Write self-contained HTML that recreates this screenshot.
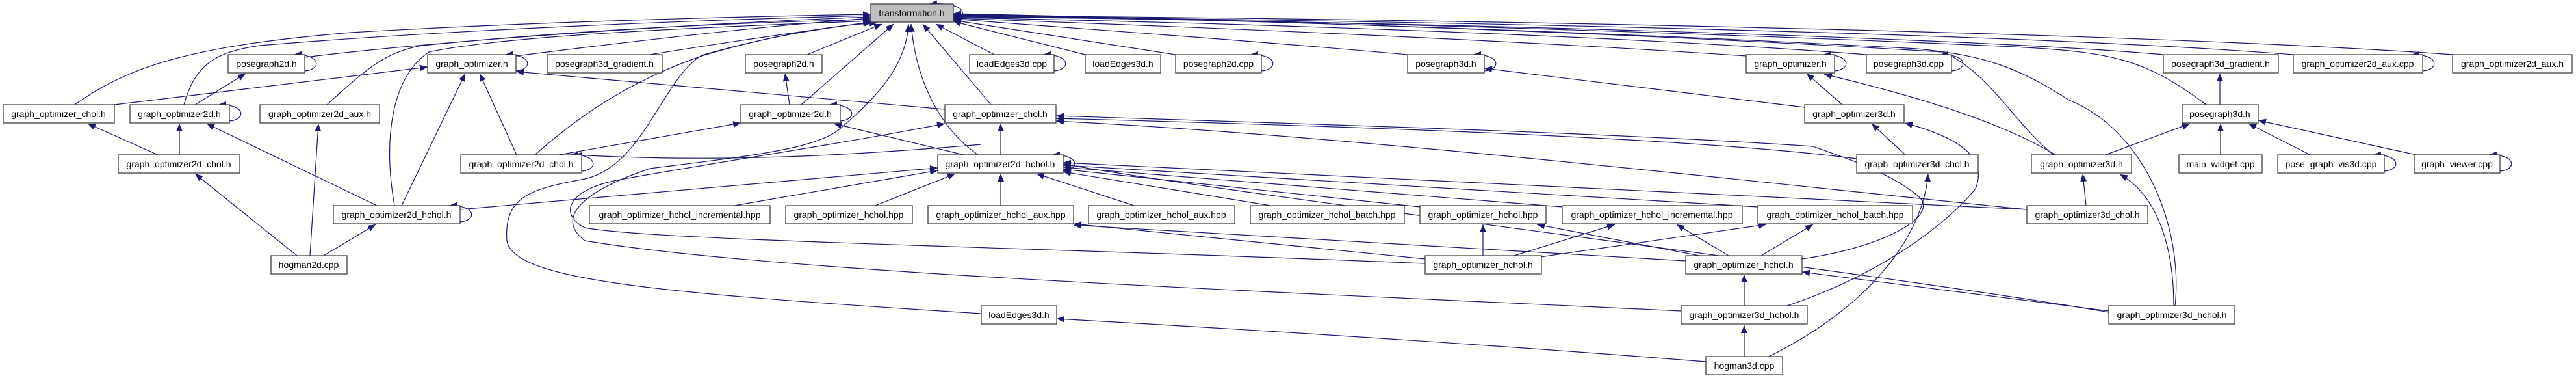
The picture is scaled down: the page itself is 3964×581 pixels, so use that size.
<!DOCTYPE html>
<html><head><meta charset="utf-8"><style>
html,body{margin:0;padding:0;background:#fff;}
svg{display:block;}
.n rect{fill:#fff;stroke:#404040;stroke-width:1.3;}
.n text{font-family:"Liberation Sans",sans-serif;font-size:14px;fill:#000;text-anchor:middle;}
.e path{fill:none;stroke:#191970;stroke-width:1.2;marker-end:url(#a);}
</style></head><body>
<svg width="3964" height="581" viewBox="0 0 3964 581" xmlns="http://www.w3.org/2000/svg">
<defs><marker id="a" markerUnits="userSpaceOnUse" markerWidth="13" markerHeight="10" refX="12" refY="5" orient="auto"><path d="M0,0 L12,5 L0,10 z" fill="#191970"/></marker></defs>
<g class="e">
<!-- edges to transformation.h -->
<path d="M115,161 C200,100 300,70 540,50 C800,35 1100,26 1340,22"/>
<path d="M283,161 C300,100 330,80 400,70 C700,45 1100,30 1340,24"/>
<path d="M469,88 C700,60 1100,35 1340,26"/>
<path d="M794,86 C1000,60 1200,38 1340,28"/>
<path d="M503,161 C560,110 590,80 650,70 C900,45 1150,34 1340,30"/>
<path d="M607,316 C590,220 600,120 660,80 C800,50 1200,38 1340,32"/>
<path d="M1000,84 C1150,60 1280,42 1342,34"/>
<path d="M823,238 C900,170 980,120 1083,85 C1200,50 1300,38 1350,35"/>
<path d="M1242,84 L1357,37"/>
<path d="M1233,161 L1375,37"/>
<path d="M1505,238 C1450,200 1410,130 1402,37"/>
<path d="M1525,161 L1420,37"/>
<path d="M1530,84 L1440,37"/>
<path d="M1670,84 L1467,33"/>
<path d="M1809,84 L1467,31"/>
<path d="M2166,84 C1900,60 1600,40 1467,29"/>
<path d="M2687,86 C2300,60 1800,40 1467,28"/>
<path d="M2872,84 C2500,55 1900,35 1467,27"/>
<path d="M3329,84 C3000,55 2000,30 1467,26"/>
<path d="M3529,84 C3100,50 2100,30 1467,25"/>
<path d="M3774,84 C3300,50 2200,28 1467,24"/>
<path d="M3395,161 C3300,90 3250,80 3100,72 C2500,45 1900,30 1467,23"/>
<path d="M3347,470 C3360,350 3300,200 3184,154 C3100,100 3050,85 2950,75 C2500,50 1900,30 1467,22"/>
<path d="M3160,238 C3100,190 3060,110 2990,80 C2500,50 1900,30 1467,21"/>
<path d="M1510,482 C1000,450 790,430 780,370 C775,300 820,290 900,275 C990,255 1020,120 1080,85 C1200,50 1300,40 1340,34"/>
<path d="M2587,478 C2000,450 1200,420 900,370 C860,340 880,300 1000,259 C1150,240 1250,230 1290,200 C1350,150 1395,100 1398,37"/>
<!-- self loops -->
<path d="M1467,30 C1490,28 1490,2 1430,6"/>
<path d="M469,109 C495,107 495,83 452,84"/>
<path d="M794,109 C820,107 820,83 777,84"/>
<path d="M353,186 C379,184 379,160 336,161"/>
<path d="M895,263 C921,261 921,237 878,238"/>
<path d="M708,341 C734,339 734,315 691,316"/>
<path d="M1293,186 C1319,184 1319,160 1276,161"/>
<path d="M1622,109 C1648,107 1648,83 1605,84"/>
<path d="M1941,109 C1967,107 1967,83 1924,84"/>
<path d="M1636,263 C1662,261 1662,237 1619,238"/>
<path d="M2284,109 C2310,107 2310,83 2267,84"/>
<path d="M2823,109 C2849,107 2849,83 2806,84"/>
<path d="M3003,109 C3029,107 3029,83 2986,84"/>
<path d="M3728,109 C3754,107 3754,83 3711,84"/>
<path d="M3669,263 C3695,261 3695,237 3652,238"/>
<path d="M3847,263 C3873,261 3873,237 3830,238"/>
<!-- left cluster -->
<path d="M300,161 L378,113"/>
<path d="M176,161 L658,103"/>
<path d="M243,238 L135,190"/>
<path d="M276,238 L276,190"/>
<path d="M580,316 L318,190"/>
<path d="M618,316 L716,113"/>
<path d="M795,238 L738,113"/>
<path d="M457,393 L300,267"/>
<path d="M477,393 L490,190"/>
<path d="M498,393 L578,345"/>
<path d="M1454,168 L794,110"/>
<path d="M1510,222 C1300,240 1100,250 884,238"/>
<path d="M1215,161 L1208,113"/>
<path d="M1483,238 L1283,190"/>
<path d="M860,238 L1140,189"/>
<path d="M708,322 L1443,258"/>
<path d="M1540,238 L1540,190"/>
<!-- row4 to 2d_hchol -->
<path d="M1130,316 L1443,262"/>
<path d="M1347,316 L1470,267"/>
<path d="M1540,316 L1540,267"/>
<path d="M1745,316 L1595,267"/>
<path d="M1955,316 L1636,264"/>
<path d="M2185,318 L1636,260"/>
<path d="M2404,318 L1636,257"/>
<path d="M2705,318 L1636,254"/>
<path d="M3119,322 L1636,250"/>
<path d="M3245,480 C2900,420 1900,300 1636,252"/>
<!-- row5 -->
<path d="M2282,393 L2282,345"/>
<path d="M2330,393 L2485,345"/>
<path d="M2370,395 L2718,345"/>
<path d="M2615,393 L2365,345"/>
<path d="M2660,393 L2580,345"/>
<path d="M2710,393 L2790,345"/>
<path d="M2193,398 L1652,344"/>
<path d="M2594,401 L1652,346"/>
<path d="M2193,405 C1600,380 1000,370 900,350 C860,330 870,290 960,275 C1100,250 1300,220 1454,190"/>
<path d="M2773,398 C2900,380 2990,330 2950,300 C2900,260 2830,240 2790,225 C2500,205 2000,190 1625,178"/>
<path d="M2857,244 C2600,210 2000,192 1625,182"/>
<path d="M3119,322 C2700,280 2100,210 1625,186"/>
<path d="M3245,478 L2773,418"/>
<path d="M2684,470 L2684,422"/>
<path d="M2684,548 L2684,500"/>
<path d="M2722,548 C2880,470 2960,360 2967,267"/>
<path d="M2625,556 C2300,530 1900,505 1626,490"/>
<path d="M2750,470 C2900,420 3000,340 3040,290 C3060,240 3010,210 2931,189"/>
<!-- 3d cluster -->
<path d="M2835,161 L2780,113"/>
<path d="M2777,165 L2284,105"/>
<path d="M3163,238 C3100,200 3000,160 2807,114"/>
<path d="M2932,238 L2880,190"/>
<path d="M3210,316 L3205,267"/>
<path d="M3345,470 C3345,380 3320,300 3262,268"/>
<path d="M3416,161 L3416,113"/>
<path d="M3240,238 L3370,190"/>
<path d="M3417,238 L3417,190"/>
<path d="M3555,238 L3460,190"/>
<path d="M3718,238 L3475,185"/>
</g>
<g class="n">
<rect x="1340" y="6" width="127" height="28" style="fill:#bfbfbf"/><text x="1403" y="25">transformation.h</text>
<rect x="351" y="84" width="118" height="28"/><text x="410" y="103">posegraph2d.h</text>
<rect x="658" y="84" width="136" height="28"/><text x="726" y="103">graph_optimizer.h</text>
<rect x="842" y="84" width="177" height="28"/><text x="930" y="103">posegraph3d_gradient.h</text>
<rect x="1147" y="84" width="118" height="28"/><text x="1206" y="103">posegraph2d.h</text>
<rect x="1492" y="84" width="130" height="28"/><text x="1557" y="103">loadEdges3d.cpp</text>
<rect x="1670" y="84" width="116" height="28"/><text x="1728" y="103">loadEdges3d.h</text>
<rect x="1809" y="84" width="132" height="28"/><text x="1875" y="103">posegraph2d.cpp</text>
<rect x="2166" y="84" width="118" height="28"/><text x="2225" y="103">posegraph3d.h</text>
<rect x="2687" y="84" width="136" height="28"/><text x="2755" y="103">graph_optimizer.h</text>
<rect x="2872" y="84" width="131" height="28"/><text x="2937" y="103">posegraph3d.cpp</text>
<rect x="3329" y="84" width="177" height="28"/><text x="3417" y="103">posegraph3d_gradient.h</text>
<rect x="3529" y="84" width="199" height="28"/><text x="3628" y="103">graph_optimizer2d_aux.cpp</text>
<rect x="3774" y="84" width="184" height="28"/><text x="3866" y="103">graph_optimizer2d_aux.h</text>
<rect x="5" y="161" width="171" height="28"/><text x="90" y="180">graph_optimizer_chol.h</text>
<rect x="200" y="161" width="153" height="28"/><text x="276" y="180">graph_optimizer2d.h</text>
<rect x="400" y="161" width="184" height="28"/><text x="492" y="180">graph_optimizer2d_aux.h</text>
<rect x="1140" y="161" width="153" height="28"/><text x="1216" y="180">graph_optimizer2d.h</text>
<rect x="1454" y="161" width="171" height="28"/><text x="1539" y="180">graph_optimizer_chol.h</text>
<rect x="2777" y="161" width="153" height="28"/><text x="2853" y="180">graph_optimizer3d.h</text>
<rect x="3358" y="161" width="117" height="28"/><text x="3416" y="180">posegraph3d.h</text>
<rect x="182" y="238" width="187" height="28"/><text x="275" y="257">graph_optimizer2d_chol.h</text>
<rect x="709" y="238" width="186" height="28"/><text x="802" y="257">graph_optimizer2d_chol.h</text>
<rect x="1443" y="238" width="193" height="28"/><text x="1539" y="257">graph_optimizer2d_hchol.h</text>
<rect x="2857" y="238" width="187" height="28"/><text x="2950" y="257">graph_optimizer3d_chol.h</text>
<rect x="3126" y="238" width="154" height="28"/><text x="3203" y="257">graph_optimizer3d.h</text>
<rect x="3353" y="238" width="128" height="28"/><text x="3417" y="257">main_widget.cpp</text>
<rect x="3505" y="238" width="164" height="28"/><text x="3587" y="257">pose_graph_vis3d.cpp</text>
<rect x="3715" y="238" width="132" height="28"/><text x="3781" y="257">graph_viewer.cpp</text>
<rect x="513" y="316" width="195" height="28"/><text x="610" y="335">graph_optimizer2d_hchol.h</text>
<rect x="907" y="316" width="278" height="28"/><text x="1046" y="335">graph_optimizer_hchol_incremental.hpp</text>
<rect x="1209" y="316" width="195" height="28"/><text x="1306" y="335">graph_optimizer_hchol.hpp</text>
<rect x="1428" y="316" width="224" height="28"/><text x="1540" y="335">graph_optimizer_hchol_aux.hpp</text>
<rect x="1675" y="316" width="225" height="28"/><text x="1787" y="335">graph_optimizer_hchol_aux.hpp</text>
<rect x="1924" y="316" width="237" height="28"/><text x="2042" y="335">graph_optimizer_hchol_batch.hpp</text>
<rect x="2185" y="316" width="194" height="28"/><text x="2282" y="335">graph_optimizer_hchol.hpp</text>
<rect x="2404" y="316" width="277" height="28"/><text x="2542" y="335">graph_optimizer_hchol_incremental.hpp</text>
<rect x="2705" y="316" width="238" height="28"/><text x="2824" y="335">graph_optimizer_hchol_batch.hpp</text>
<rect x="3119" y="316" width="186" height="28"/><text x="3212" y="335">graph_optimizer3d_chol.h</text>
<rect x="417" y="393" width="117" height="28"/><text x="475" y="412">hogman2d.cpp</text>
<rect x="2193" y="393" width="179" height="28"/><text x="2282" y="412">graph_optimizer_hchol.h</text>
<rect x="2594" y="393" width="179" height="28"/><text x="2683" y="412">graph_optimizer_hchol.h</text>
<rect x="1510" y="470" width="116" height="28"/><text x="1568" y="489">loadEdges3d.h</text>
<rect x="2587" y="470" width="194" height="28"/><text x="2684" y="489">graph_optimizer3d_hchol.h</text>
<rect x="3245" y="470" width="194" height="28"/><text x="3342" y="489">graph_optimizer3d_hchol.h</text>
<rect x="2625" y="548" width="118" height="28"/><text x="2684" y="567">hogman3d.cpp</text>
</g>
</svg>
</body></html>
